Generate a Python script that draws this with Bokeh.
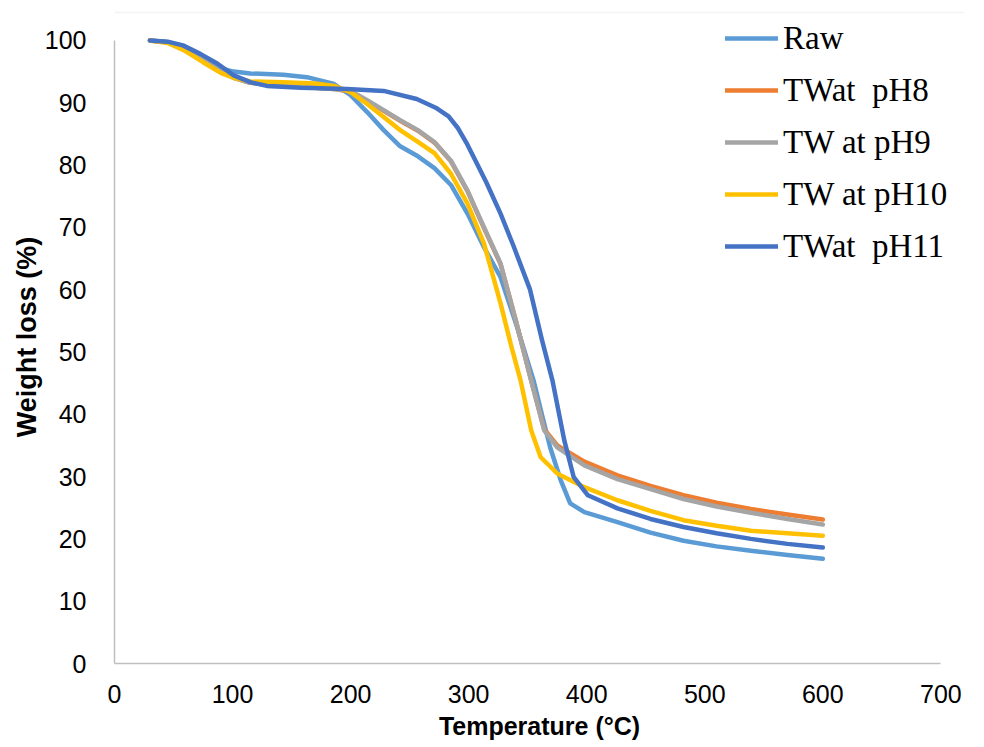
from bokeh.plotting import figure
from bokeh.models import Range1d, Legend, LegendItem, SingleIntervalTicker, BoxAnnotation
from bokeh.embed import file_html
from bokeh.resources import INLINE

# ---- data ----
raw_T = [30, 45, 60, 75, 90, 101, 115, 143, 163, 186, 200, 214, 228, 242, 257, 271, 285, 299, 313, 327, 341, 355, 362, 369, 378, 386, 398, 426, 454, 482, 510, 539, 570, 600]
raw_W = [100, 99.7, 98.5, 97.0, 95.5, 95.0, 94.7, 94.5, 94.1, 93.0, 91.2, 88.5, 85.6, 83.0, 81.4, 79.5, 76.8, 72.2, 66.8, 62.0, 54.0, 45.4, 40.0, 34.7, 29.4, 25.7, 24.3, 22.7, 21.0, 19.7, 18.8, 18.1, 17.4, 16.8]

ph8_T = [30, 45, 60, 75, 90, 101, 115, 143, 170, 186, 200, 214, 228, 242, 257, 271, 285, 299, 313, 327, 340, 353, 364, 375, 398, 426, 454, 482, 510, 539, 570, 600]
ph8_W = [100, 99.7, 98.5, 96.8, 95.0, 94.0, 93.2, 92.7, 92.4, 92.2, 91.8, 90.3, 88.7, 87.1, 85.5, 83.6, 80.6, 75.8, 69.9, 64.1, 55.0, 45.4, 37.6, 35.0, 32.4, 30.2, 28.5, 27.0, 25.8, 24.8, 23.9, 23.1]

ph9_T = [30, 45, 60, 75, 90, 101, 115, 143, 170, 186, 200, 214, 228, 242, 257, 271, 285, 299, 313, 327, 340, 353, 364, 375, 398, 426, 454, 482, 510, 539, 570, 600]
ph9_W = [100, 99.7, 98.5, 96.8, 95.0, 94.0, 93.2, 92.7, 92.4, 92.2, 91.9, 90.4, 88.8, 87.2, 85.6, 83.7, 80.7, 75.9, 70.0, 64.2, 55.0, 45.4, 37.4, 34.7, 31.8, 29.6, 28.0, 26.4, 25.2, 24.2, 23.2, 22.3]

ph10_T = [30, 45, 60, 75, 90, 101, 115, 143, 170, 186, 200, 214, 228, 242, 257, 271, 285, 299, 313, 327, 336, 344, 353, 361, 375, 398, 426, 454, 482, 510, 539, 570, 600]
ph10_W = [100, 99.6, 98.3, 96.5, 94.8, 94.0, 93.4, 93.3, 93.1, 92.7, 91.7, 89.8, 87.7, 85.6, 83.7, 81.9, 78.6, 73.8, 67.4, 57.8, 51.0, 45.4, 37.4, 33.1, 30.5, 28.3, 26.2, 24.5, 23.0, 22.1, 21.3, 20.9, 20.5]

ph11_T = [30, 45, 58, 73, 87, 101, 115, 129, 158, 197, 228, 256, 273, 283, 291, 298, 306, 315, 327, 338, 352, 362, 371, 381, 389, 401, 426, 454, 482, 510, 539, 570, 600]
ph11_W = [100, 99.8, 99.2, 97.8, 96.3, 94.4, 93.3, 92.7, 92.4, 92.2, 91.9, 90.6, 89.1, 87.8, 85.9, 83.6, 80.6, 77.2, 72.2, 67.0, 60.0, 52.0, 45.4, 35.8, 29.9, 27.0, 24.9, 23.2, 21.9, 20.9, 20.0, 19.2, 18.6]

series_names = ["Raw", "TWat  pH8", "TW at pH9", "TW at pH10", "TWat  pH11"]
series_colors = ["#5B9BD5", "#ED7D31", "#A5A5A5", "#FFC000", "#4472C4"]

x_ticks_step = 100
y_ticks_step = 10

p = figure(width=980, height=745, output_backend="svg", toolbar_location=None,
           x_range=Range1d(0, 720), y_range=Range1d(0, 104.8),
           min_border_left=114, min_border_right=16, min_border_top=10, min_border_bottom=82)
p.outline_line_color = None
p.background_fill_color = "white"
p.border_fill_color = "white"
p.xgrid.visible = False
p.ygrid.visible = False

# light chart-area border
border = BoxAnnotation(left=10, right=979, top=12, bottom=744,
                       left_units="canvas", right_units="canvas",
                       top_units="canvas", bottom_units="canvas",
                       fill_alpha=0, line_color="#D9D9D9", line_width=1.5)
p.add_layout(border)

data = [(raw_T, raw_W), (ph8_T, ph8_W), (ph9_T, ph9_W), (ph10_T, ph10_W), (ph11_T, ph11_W)]
renderers = []
for (t, w), c in zip(data, series_colors):
    r = p.line(t, w, line_color=c, line_width=4.5, line_join="round", line_cap="round")
    renderers.append(r)

p.xaxis.ticker = SingleIntervalTicker(interval=x_ticks_step)
p.yaxis.ticker = SingleIntervalTicker(interval=y_ticks_step)
p.xaxis.bounds = (0, 700)
p.yaxis.bounds = (0, 100)
for ax in (p.xaxis[0], p.yaxis[0]):
    ax.axis_line_color = "#BFBFBF"
    ax.axis_line_width = 1.5
    ax.major_tick_line_color = None
    ax.minor_tick_line_color = None
    ax.major_tick_out = 0
    ax.major_tick_in = 0
    ax.major_label_text_font = "Liberation Sans"
    ax.major_label_text_font_size = "25px"
    ax.major_label_text_color = "black"
    ax.axis_label_text_font = "Liberation Sans"
    ax.axis_label_text_font_style = "bold"
    ax.axis_label_text_color = "black"

p.xaxis.axis_label = "Temperature (°C)"
p.yaxis.axis_label = "Weight loss (%)"
p.xaxis.axis_label_text_font_size = "25px"
p.yaxis.axis_label_text_font_size = "27px"
p.xaxis.major_label_standoff = 17
p.yaxis.major_label_standoff = 24
p.xaxis.axis_label_standoff = 6
p.yaxis.axis_label_standoff = 0

legend = Legend(items=[LegendItem(label=n, renderers=[r]) for n, r in zip(series_names, renderers)],
                location=(611, 391), orientation="vertical")
legend.background_fill_alpha = 0
legend.border_line_color = None
legend.padding = 0
legend.margin = 0
legend.spacing = 0
legend.glyph_width = 53
legend.glyph_height = 52
legend.label_height = 52
legend.label_standoff = 5
legend.label_text_font = "Liberation Serif"
legend.label_text_font_size = "33px"
legend.label_text_color = "black"
legend.click_policy = "none"
p.add_layout(legend, "center")

open("out.html", "w").write(file_html(p, INLINE))
